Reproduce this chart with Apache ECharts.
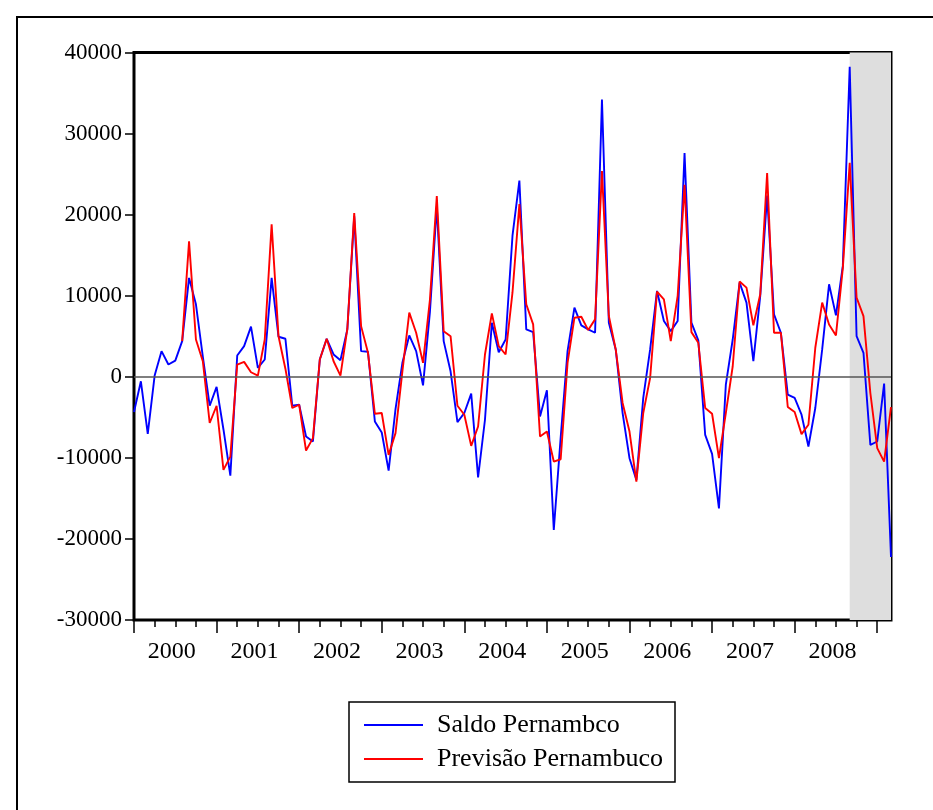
<!DOCTYPE html>
<html>
<head>
<meta charset="utf-8">
<script src="https://cdn.jsdelivr.net/npm/echarts@6/dist/echarts.min.js"></script>
<style>
  html, body { margin: 0; padding: 0; background: #fff; }
  #chart { width: 933px; height: 810px; }
</style>
</head>
<body>
<div id="chart"></div>
<script>
// monthly observations, Jan 2000 .. Mar 2009
var years = ["2000", "2001", "2002", "2003", "2004", "2005", "2006", "2007", "2008"];
var lastIndex = 110;      // Mar 2009
var previsaoStart = 7;    // forecast series starts Aug 2000
var forecastStart = 104;  // shaded out-of-sample period (Sep 2008 on)

var saldo = [
    -4350, -560, -7030, 150, 3160, 1510, 2000, 4400, 12200, 8940, 2500, -3570,
    -1250, -6500, -12200, 2620, 3780, 6180, 1100, 2130, 12200, 4940, 4690, -3570,
    -3450, -7370, -7980, 2130, 4690, 2750, 2050, 5840, 19800, 3160, 3080, -5510,
    -6870, -11570, -4000, 1720, 5100, 3160, -1050, 8000, 21000, 4400, 680, -5590,
    -4470, -2080, -12400, -5300, 6670, 3030, 4600, 17400, 24200, 5840, 5510, -4890,
    -1670, -18900, -7500, 3160, 8530, 6340, 5840, 5430, 34200, 6670, 3370, -4470,
    -10040, -12730, -2610, 3370, 10590, 6880, 5630, 6880, 27600, 6670, 4500, -7160,
    -9510, -16230, -970, 4600, 11620, 9150, 1920, 9970, 22350, 7700, 5430, -2200,
    -2610, -4680, -8600, -3850, 3370, 11410, 7570, 13680, 38240, 5010, 2960, -8390,
    -7980, -840, -22220
];

var previsao = [
    4400, 16700, 4600, 1920, -5700,
    -3570, -11490, -9840, 1510, 1840, 560, 150, 4600, 18800, 5000, 1000, -3850,
    -3450, -9100, -7570, 2130, 4690, 1920, 150, 5900, 20200, 6250, 2960, -4560,
    -4470, -9630, -6950, 680, 7910, 5430, 1720, 9500, 22300, 5630, 5010, -3570,
    -4680, -8520, -6130, 2750, 7820, 3780, 2750, 10400, 21300, 8940, 6460, -7370,
    -6750, -10460, -10170, 1720, 7290, 7410, 5760, 7080, 25370, 7490, 3370, -3230,
    -6750, -12930, -4470, -140, 10510, 9560, 4400, 9970, 23670, 5510, 4200, -3850,
    -4560, -10040, -4470, 1300, 11750, 11000, 6340, 10180, 25120, 5430, 5430, -3730,
    -4350, -7070, -5920, 3580, 9150, 6460, 5100, 13400, 26390, 9770, 7490, -2000,
    -8800, -10460, -3730
];

var font = "Liberation Serif";

var saldoData = saldo.map(function (v, i) { return [i, v]; });
var previsaoData = previsao.map(function (v, i) { return [i + previsaoStart, v]; });

var quarterTicks = [], yearTicks = [], labelPos = [];
for (var m = 0; m <= lastIndex; m += 3) quarterTicks.push(m);
for (var y = 0; y < years.length + 1; y++) yearTicks.push(y * 12);
for (var k = 0; k < years.length; k++) labelPos.push(k * 12 + 5.5);

var chart = echarts.init(document.getElementById("chart"));

var option = {
    animation: false,
    backgroundColor: "#fff",
    graphic: [{
        type: "rect",
        shape: { x: 17, y: 17, width: 960, height: 900 },
        style: { fill: "none", stroke: "#000", lineWidth: 2 }
    }],
    grid: {
        left: 134, top: 52.5, width: 757, height: 567.5,
        show: true, borderColor: "#000", borderWidth: 3, backgroundColor: "transparent"
    },
    legend: {
        left: 349, top: 702,
        orient: "vertical",
        data: [
            { name: "Saldo Pernambco", icon: "rect" },
            { name: "Previsão Pernambuco", icon: "rect" }
        ],
        itemWidth: 59, itemHeight: 2, itemGap: 8,
        padding: [10, 12, 10, 15],
        borderColor: "#000", borderWidth: 1.5,
        textStyle: { fontFamily: font, fontSize: 26, color: "#000", padding: [0, 0, 0, 9] }
    },
    xAxis: [{
        type: "value", min: 0, max: lastIndex, position: "bottom",
        axisLine: { show: false, onZero: false },
        splitLine: { show: false },
        axisTick: { show: true, length: 7, lineStyle: { color: "#000", width: 1.5 }, customValues: quarterTicks },
        axisLabel: {
            customValues: labelPos, margin: 20, color: "#000", fontFamily: font, fontSize: 24,
            formatter: function (v) { return years[Math.floor(v / 12)]; }
        }
    }, {
        type: "value", min: 0, max: lastIndex, position: "bottom",
        axisLine: { show: false, onZero: false },
        splitLine: { show: false },
        axisTick: { show: true, length: 13, lineStyle: { color: "#000", width: 1.5 }, customValues: yearTicks },
        axisLabel: { show: false }
    }],
    yAxis: {
        type: "value", min: -30000, max: 40000, interval: 10000,
        axisLine: { show: false, onZero: false },
        splitLine: { show: false },
        axisTick: { show: true, length: 9, lineStyle: { color: "#000", width: 1.5 } },
        axisLabel: {
            margin: 12, color: "#000", fontFamily: font, fontSize: 23,
            formatter: function (v) { return String(v); }
        }
    },
    series: [{
        name: "Saldo Pernambco",
        type: "line",
        symbol: "none",
        data: saldoData,
        lineStyle: { color: "#0000ff", width: 1.9 },
        itemStyle: { color: "#0000ff" },
        markArea: {
            silent: true,
            itemStyle: { color: "#dedede" },
            data: [[{ xAxis: forecastStart }, { xAxis: lastIndex }]]
        },
        markLine: {
            silent: true,
            symbol: ["none", "none"],
            label: { show: false },
            lineStyle: { color: "#555", width: 1.5, type: "solid" },
            data: [{ yAxis: 0 }]
        }
    }, {
        name: "Previsão Pernambuco",
        type: "line",
        symbol: "none",
        data: previsaoData,
        lineStyle: { color: "#ff0000", width: 1.9 },
        itemStyle: { color: "#ff0000" }
    }]
};

chart.setOption(option);
</script>
</body>
</html>
